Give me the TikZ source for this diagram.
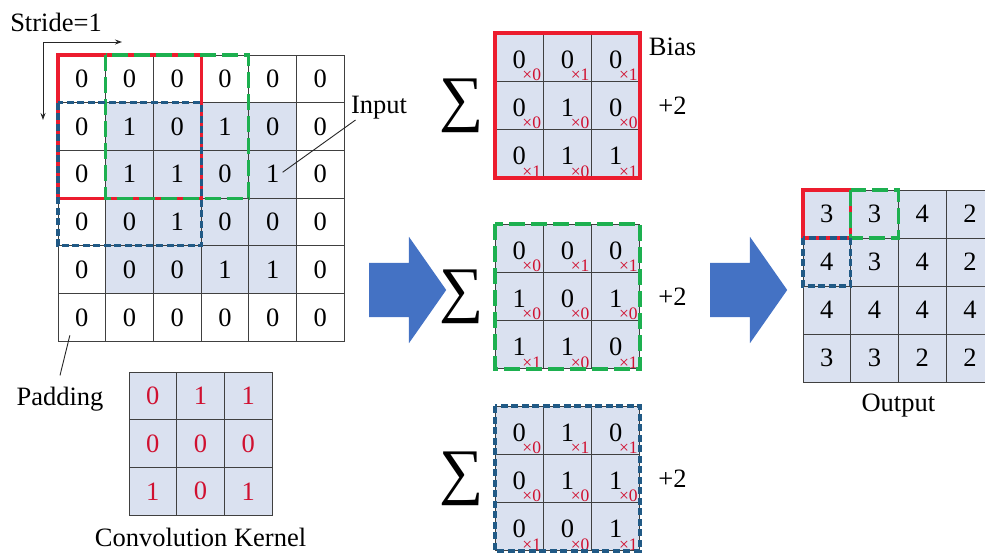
\documentclass[tikz,border=0pt]{standalone}
\usepackage{fontspec}
\setmainfont{Liberation Serif}
\usetikzlibrary{arrows.meta,positioning,shapes.arrows}
\definecolor{convred}{HTML}{EC1C2E}
\definecolor{convgreen}{HTML}{1DB050}
\definecolor{convblue}{HTML}{215A86}
\definecolor{convfill}{HTML}{DAE1F0}
\definecolor{convarrow}{HTML}{4472C4}
\definecolor{convink}{HTML}{D01030}

\begin{document}
\begin{tikzpicture}[
  x=1pt, y=-1pt,
  font=\fontsize{26.5}{30}\selectfont,
  >={Stealth[length=7pt,width=5pt]},
  cell/.style={draw=black!75, line width=1pt, minimum size=47.7pt, inner sep=0pt, outer sep=0pt, anchor=north west},
  padcell/.style={cell, fill=white},
  datacell/.style={cell, fill=convfill},
  prodcell/.style={datacell, minimum size=48.3pt, text height=22pt, text depth=0pt},
  outcell/.style={datacell, minimum width=47.7pt, minimum height=48pt},
  mult/.style={font=\fontsize{17.5}{20}\selectfont, text=convink, inner sep=0.5pt, anchor=south east},
  redbox/.style={draw=convred, line width=3.2pt},
  greenbox/.style={draw=convgreen, line width=3.2pt, dash pattern=on 16pt off 6pt},
  bluebox/.style={draw=convblue, line width=3.2pt, dash pattern=on 7pt off 3.5pt},
  bigarrow/.style={single arrow, fill=convarrow, minimum height=77pt, inner sep=0pt, inner ysep=27pt, single arrow head extend=26pt, single arrow tip angle=110, anchor=tail},
  lead/.style={draw=black!85, line width=0.9pt},
  sigma/.style={font=\fontsize{62}{68}\selectfont, inner sep=0pt}
]
  \clip (0,0) rectangle (985,554);

  % padded input
  \foreach \row [count=\r from 0] in {{0,0,0,0,0,0},{0,1,0,1,0,0},{0,1,1,0,1,0},{0,0,1,0,0,0},{0,0,0,1,1,0},{0,0,0,0,0,0}}
    \foreach \v [count=\c from 0] in \row {
      \pgfmathtruncatemacro\inside{(\r>0)*(\r<5)*(\c>0)*(\c<5)}
      \ifnum\inside=1 \def\cellsty{datacell}\else\def\cellsty{padcell}\fi
      \node[\cellsty] (in-\r-\c) at ({58+47.7*\c},{55+47.7*\r}) {\v};
    }
  \draw[redbox] (in-0-0.north west) rectangle (in-2-2.south east);
  \draw[greenbox] (in-0-1.north west) rectangle (in-2-3.south east);
  \draw[bluebox] (in-1-0.north west) rectangle (in-3-2.south east);

  \node (stride) at (56,22) {Stride=1};
  \coordinate (corner) at (43,42);
  \coordinate (sright) at (122,42);
  \coordinate (sdown) at (43,120);
  \draw[lead,->] (corner) -- (sright);
  \draw[lead,->] (corner) -- (sdown);

  \node (inlabel) at (379,108) {Input};
  \draw[lead] ([xshift=8pt,yshift=3pt]inlabel.south west) -- ([xshift=10pt,yshift=2pt]in-2-4.center);
  \node (padlabel) at (60,399) {Padding};
  \draw[lead] ([yshift=8pt]padlabel.north) -- ([xshift=-12pt,yshift=-18pt]in-5-0.center);

  % kernel
  \foreach \row [count=\r from 0] in {{0,1,1},{0,0,0},{1,0,1}}
    \foreach \v [count=\c from 0] in \row
      \node[datacell, text=convink] (k-\r-\c) at ({129+47.7*\c},{372+47.7*\r}) {\v};
  \node[below=9pt of k-2-1] (kernlabel) {Convolution Kernel};

  \node[bigarrow] (arrow1) at (369,290) {};
  \node[bigarrow] (arrow2) at (710,290) {};

  % element-wise products
  \foreach \g/\gy/\vals in {rb/33/{{0,0,0},{0,1,0},{0,1,1}}, gb/224/{{0,0,0},{1,0,1},{1,1,0}}, bb/406/{{0,1,0},{0,1,1},{0,0,1}}}
    \foreach \row [count=\r from 0] in \vals
      \foreach \v [count=\c from 0] in \row {
        \pgfmathtruncatemacro\k{{0,1,1,0,0,0,1,0,1}[3*\r+\c]}
        \node[prodcell] (\g-\r-\c) at ({495+48.3*\c},{\gy+48.3*\r}) {\v};
        \node[mult] (\g-m-\r-\c) at ([xshift=-1.5pt]\g-\r-\c.south east) {×\k};
      }
  \draw[redbox] (rb-0-0.north west) rectangle (rb-2-2.south east);
  \draw[greenbox] (gb-0-0.north west) rectangle (gb-2-2.south east);
  \draw[bluebox] (bb-0-0.north west) rectangle (bb-2-2.south east);

  \node[sigma, left=11pt of rb-1-0] (sum1) {∑};
  \node[sigma, left=11pt of gb-1-0] (sum2) {∑};
  \node[sigma, left=11pt of bb-1-0] (sum3) {∑};
  \node[right=15pt of rb-1-2] (bias1) {+2};
  \node[right=15pt of gb-1-2] (bias2) {+2};
  \node[right=15pt of bb-1-2] (bias3) {+2};
  \node[above=34pt of bias1] (biaslabel) {Bias};

  % feature map
  \foreach \row [count=\r from 0] in {{3,3,4,2},{4,3,4,2},{4,4,4,4},{3,3,2,2}}
    \foreach \v [count=\c from 0] in \row
      \node[outcell] (out-\r-\c) at ({803+47.7*\c},{190+48*\r}) {\v};
  \draw[redbox] (out-0-0.north west) rectangle (out-0-0.south east);
  \draw[greenbox] (out-0-1.north west) rectangle (out-0-1.south east);
  \draw[bluebox] (out-1-0.north west) rectangle (out-1-0.south east);
  \node[below=8pt of out-3-1.south east] (outlabel) {Output};
\end{tikzpicture}
\end{document}
